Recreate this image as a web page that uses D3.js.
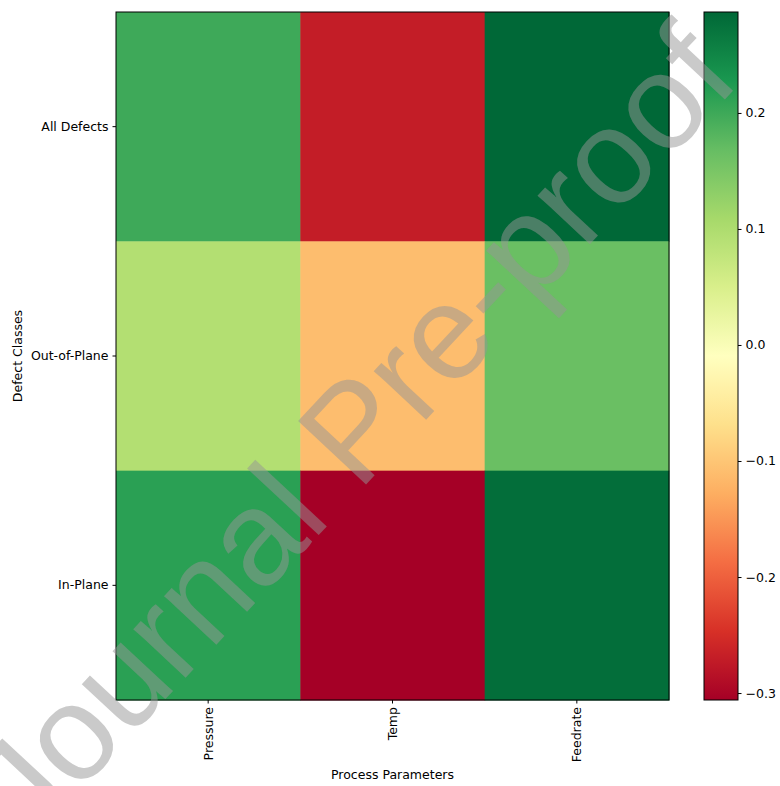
<!DOCTYPE html>
<html>
<head>
<meta charset="utf-8">
<script src="https://cdn.jsdelivr.net/npm/d3@7"></script>
<style>
  body { margin: 0; background: #fff; }
  svg text { font-family: "DejaVu Sans", sans-serif; }
</style>
</head>
<body>
<div id="chart"></div>
<script>
// data
const params = ["Pressure", "Temp", "Feedrate"];
const classes = ["All Defects", "Out-of-Plane", "In-Plane"];
const allDefects = [0.2, -0.27, 0.287];
const outOfPlane = [0.094, -0.11, 0.165];
const inPlane = [0.215, -0.306, 0.28];
const cbTicks = [0.2, 0.1, 0.0, -0.1, -0.2, -0.3];

const width = 780, height = 786;
const margin = { left: 116, top: 12, right: 111, bottom: 86 };
const plotW = width - margin.left - margin.right;
const plotH = height - margin.top - margin.bottom;

const rows = [allDefects, outOfPlane, inPlane];
const cells = [];
rows.forEach((vals, i) => vals.forEach((v, j) => cells.push({ row: classes[i], col: params[j], v })));

const vmin = d3.min(cells, d => d.v), vmax = d3.max(cells, d => d.v);
// matplotlib RdYlGn = linear interpolation of the 11 brewer colours
const brewer = d3.schemeRdYlGn[11];
const color = d3.scaleLinear()
    .domain(brewer.map((c, i) => vmin + (vmax - vmin) * i / 10))
    .range(brewer)
    .interpolate(d3.interpolateRgb);

const svg = d3.select('#chart').append('svg')
    .attr('width', width)
    .attr('height', height);

const x = d3.scaleBand().domain(params).range([margin.left, margin.left + plotW]);
const y = d3.scaleBand().domain(classes).range([margin.top, margin.top + plotH]);

// heatmap cells
svg.selectAll('rect.cell')
    .data(cells)
    .enter()
    .append('rect')
    .attr('class', 'cell')
    .attr('x', d => x(d.col))
    .attr('y', d => y(d.row))
    .attr('width', x.bandwidth() + 0.5)
    .attr('height', y.bandwidth() + 0.5)
    .attr('fill', d => color(d.v));

svg.append('rect')
    .attr('x', margin.left).attr('y', margin.top)
    .attr('width', plotW).attr('height', plotH)
    .attr('fill', 'none').attr('stroke', '#000').attr('stroke-width', 1);

// axes
const xAxis = svg.append('g')
    .attr('transform', `translate(0,${margin.top + plotH})`)
    .call(d3.axisBottom(x).tickSize(3.5).tickPadding(3));
xAxis.select('.domain').remove();
xAxis.selectAll('text')
    .attr('transform', 'rotate(-90)')
    .attr('text-anchor', 'end')
    .attr('x', -7)
    .attr('y', 0)
    .attr('dy', '0.35em')
    .style('font-size', '12.5px');

const yAxis = svg.append('g')
    .attr('transform', `translate(${margin.left},0)`)
    .call(d3.axisLeft(y).tickSize(3.5).tickPadding(4));
yAxis.select('.domain').remove();
yAxis.selectAll('text').style('font-size', '12.5px');

svg.append('text')
    .attr('x', margin.left + plotW / 2)
    .attr('y', 779)
    .attr('text-anchor', 'middle')
    .style('font-size', '12.5px')
    .text('Process Parameters');

svg.append('text')
    .attr('transform', `translate(22,${margin.top + plotH / 2}) rotate(-90)`)
    .attr('text-anchor', 'middle')
    .style('font-size', '12.5px')
    .text('Defect Classes');

// colorbar
const cbX = 704, cbW = 34;
const cbScale = d3.scaleLinear().domain([vmin, vmax]).range([margin.top + plotH, margin.top]);
const defs = svg.append('defs');
const grad = defs.append('linearGradient')
    .attr('id', 'cbgrad')
    .attr('x1', 0).attr('y1', 1).attr('x2', 0).attr('y2', 0);
d3.range(0, 1.0001, 0.05).forEach(t => {
    grad.append('stop')
        .attr('offset', t)
        .attr('stop-color', color(vmin + (vmax - vmin) * t));
});
svg.append('rect')
    .attr('x', cbX).attr('y', margin.top)
    .attr('width', cbW).attr('height', plotH)
    .attr('fill', 'url(#cbgrad)')
    .attr('stroke', '#000').attr('stroke-width', 1);

const cbAxis = svg.append('g')
    .attr('transform', `translate(${cbX + cbW},0)`)
    .call(d3.axisRight(cbScale).tickValues(cbTicks).tickSize(3.5).tickPadding(4)
        .tickFormat(d => d3.format('.1f')(d).replace('-', '\u2212')));
cbAxis.select('.domain').remove();
cbAxis.selectAll('text').style('font-size', '12.5px');

// watermark (runs off the page edge in the original too)
svg.append('text')
    .attr('transform', 'translate(352,430) rotate(-47)')
    .attr('text-anchor', 'middle')
    .attr('dy', '0.35em')
    .style('font-family', '"Liberation Sans", Arial, sans-serif')
    .style('font-size', '135px')
    .attr('fill', '#959595')
    .attr('fill-opacity', 0.5)
    .text('Journal Pre-proof');
</script>
</body>
</html>
